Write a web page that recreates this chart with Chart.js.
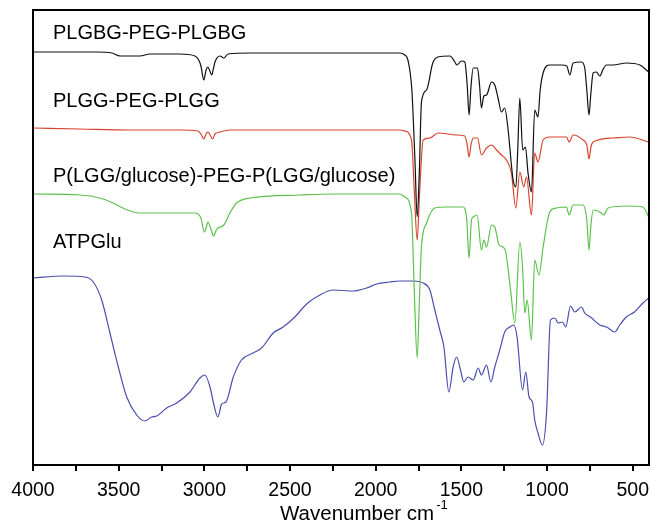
<!DOCTYPE html>
<html>
<head>
<meta charset="utf-8">
<script src="https://cdn.jsdelivr.net/npm/chart.js@4/dist/chart.umd.min.js"></script>
<style>
html,body{margin:0;padding:0;background:#fff;}
#wrap{width:651px;height:525px;}
</style>
</head>
<body>
<div id="wrap"><canvas id="c" width="651" height="525"></canvas></div>
<script>
// ---- data (wavenumber in cm-1, signal in arbitrary offset transmittance units) ----
const seriesNames = ["PLGBG-PEG-PLGBG", "PLGG-PEG-PLGG", "P(LGG/glucose)-PEG-P(LGG/glucose)", "ATPGlu"];
const xTickValues = [4000, 3500, 3000, 2500, 2000, 1500, 1000, 500];
const xTitle = "Wavenumber cm";
const xTitleSup = "-1";

const wnBlack = [4000,3842,3627,3540,3492,3434,3376,3317,3142,3055,3030,3020,3003,2990,2979,2968,2957,2945,2938,2909,2886,2862,2734,2442,2151,1859,1830,1812,1789,1771,1758,1745,1733,1703,1667,1637,1567,1538,1527,1499,1480,1466,1455,1444,1431,1406,1394,1383,1369,1353,1324,1305,1286,1266,1247,1229,1198,1182,1171,1159,1142,1126,1111,1091,1072,1053,1040,1023,984,914,885,867,848,799,780,768,755,745,731,712,692,675,653,615,537,458,407];
const tBlack = [413,413,413,412,409,409,409,411,411,409,404,399,385,395,398,394,390,398,403,409,407,411,412,412,412,412,410,405,375,305,248,295,363,375,402,408,409,403,400,404,403,380,350,378,397,397,380,357,369,370,383,380,367,353,357,338,285,278,315,367,315,318,292,273,355,348,375,392,400,400,399,390,402,403,397,375,350,370,392,393,389,395,400,400,402,400,393];

const wnRed = [4000,3726,3434,3142,3037,3020,3003,2990,2979,2966,2952,2938,2909,2851,2442,1859,1830,1791,1775,1758,1743,1723,1684,1637,1528,1480,1466,1455,1444,1431,1406,1383,1353,1324,1295,1266,1237,1208,1182,1159,1136,1120,1091,1072,1053,1023,984,887,871,848,790,768,755,744,731,615,517,407];
const tRed = [337,336,335,335,334,331,326,331,333,330,326,331,333,335,335,335,334,325,275,225,275,325,327,332,330,329,320,308,320,327,327,310,317,320,315,310,305,292,257,293,278,288,250,312,303,325,328,328,323,330,325,320,306,318,323,327,328,323];

const wnGreen = [4000,3726,3609,3533,3463,3376,3142,3055,3020,3000,2985,2979,2960,2946,2930,2921,2886,2851,2812,2734,2442,2250,2052,1859,1830,1791,1775,1758,1745,1733,1703,1655,1587,1492,1470,1455,1441,1431,1408,1383,1369,1353,1324,1305,1280,1257,1241,1213,1188,1159,1143,1130,1116,1091,1072,1047,1023,984,945,887,871,848,790,768,755,744,731,692,669,644,537,440,407];
const tGreen = [271,270,267,262,256,252,252,252,247,233,240,243,235,229,235,237,240,252,262,267,270,271,271,271,268,252,175,107,165,218,242,257,258,258,248,207,245,248,250,215,225,218,240,238,220,218,213,175,142,223,198,152,165,125,205,190,218,253,257,258,250,260,260,245,215,240,255,253,250,257,259,258,248];

const wnBlue = [4000,3823,3697,3648,3599,3551,3502,3453,3395,3347,3308,3278,3220,3162,3084,3026,2997,2967,2944,2921,2899,2874,2831,2783,2715,2666,2598,2540,2472,2403,2326,2248,2131,2053,1995,1917,1859,1782,1723,1684,1655,1626,1602,1573,1548,1528,1505,1486,1461,1431,1402,1383,1353,1328,1305,1276,1247,1217,1194,1175,1143,1124,1105,1085,1072,1053,1027,1003,980,955,935,910,891,863,838,799,780,747,692,653,605,576,537,490,440,407];
const tBlue = [187,189,188,183,165,132,98,68,50,44,48,49,57,62,73,87,90,78,60,48,61,63,88,105,112,117,132,138,148,161,170,175,174,177,181,183,184,184,182,175,155,135,118,73,98,108,95,83,88,85,97,90,100,83,98,115,133,138,140,128,75,93,68,63,45,32,20,52,145,147,142,143,138,159,153,158,152,148,140,138,133,140,148,153,162,167];

// ---- build chart ----
const FONT = "'Liberation Sans', Arial, Helvetica, sans-serif";
function pts(xs, ys){ return xs.map((x,i)=>({x:x, y:ys[i]})); }
const colors = ["#111111", "#d8452f", "#5cc24c", "#4b4fae"];
const allSeries = [[wnBlack,tBlack],[wnRed,tRed],[wnGreen,tGreen],[wnBlue,tBlue]];

const labelBaselines = [39, 107, 182, 248];

const overlay = {
  id: 'overlay',
  afterDraw(chart){
    const ctx = chart.ctx, a = chart.chartArea;
    ctx.save();
    ctx.strokeStyle = '#000';
    ctx.lineWidth = 2;
    ctx.strokeRect(a.left, a.top, a.right - a.left, a.bottom - a.top);
    ctx.fillStyle = '#000';
    ctx.textBaseline = 'alphabetic';
    ctx.textAlign = 'left';
    ctx.font = "20px " + FONT;
    seriesNames.forEach((n,i)=>{ ctx.fillText(n, 53, labelBaselines[i]); });
    ctx.font = "20.5px " + FONT;
    ctx.fillText(xTitle, 280, 520);
    const w = ctx.measureText(xTitle).width;
    ctx.font = "13px " + FONT;
    ctx.fillText(xTitleSup, 280 + w + 2, 509);
    ctx.restore();
  }
};

new Chart(document.getElementById('c'), {
  type: 'line',
  data: {
    datasets: allSeries.map((s,i)=>({
      label: seriesNames[i],
      data: pts(s[0], s[1]),
      borderColor: colors[i],
      borderWidth: 1.2,
      pointRadius: 0,
      fill: false,
      tension: 0.25,
      cubicInterpolationMode: 'monotone'
    }))
  },
  options: {
    responsive: false,
    animation: false,
    devicePixelRatio: 1,
    layout: { padding: { left: 33, top: 10, right: 2, bottom: 0 } },
    plugins: { legend: { display: false }, tooltip: { enabled: false } },
    scales: {
      x: {
        type: 'linear',
        reverse: true,
        min: 405,
        max: 4000,
        afterBuildTicks: (scale) => {
          const t = [];
          for (let v = 4000; v >= 500; v -= 250) t.push({ value: v });
          scale.ticks = t;
        },
        afterFit: (scale) => { scale.height = 60; scale.paddingLeft = 0; scale.paddingRight = 0; },
        grid: { drawOnChartArea: false, drawTicks: true, tickLength: 6, color: '#000', lineWidth: 2 },
        border: { display: true, color: '#000', width: 2 },
        ticks: {
          autoSkip: false,
          maxRotation: 0,
          padding: 8,
          color: '#000',
          font: { family: FONT, size: 19.5 },
          callback: (v) => (xTickValues.includes(v) ? String(v) : '')
        }
      },
      y: { display: false, min: 0, max: 455 }
    }
  },
  plugins: [overlay]
});
</script>
</body>
</html>
